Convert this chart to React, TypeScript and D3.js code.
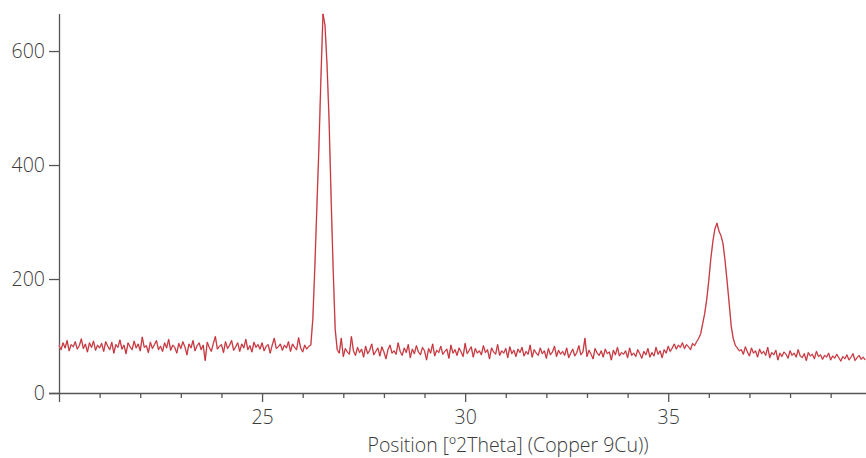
import { useEffect, useRef } from "react";
import * as d3 from "d3";

// scan grid: 2Theta starts at 20 and steps 0.05 degrees
const thetaStart = 20;
const thetaStep = 0.05;

// counts, in scan order
const baselineLow = [
  84, 76, 88, 79, 92, 74, 85, 81, 90, 77,
  83, 95, 78, 86, 72, 88, 80, 91, 75, 84,
  79, 87, 73, 90, 82, 76, 89, 70, 85, 80,
  93, 77, 84, 69, 88, 81, 76, 91, 79, 86,
  74, 98, 80, 83, 71, 89, 78, 85, 92, 76,
  82, 73, 88, 79, 94, 75, 84, 80, 70, 87,
  78, 90, 81, 67, 86, 79, 92, 74, 83, 88,
  76, 84, 57, 89, 80, 73, 87, 99, 77, 82,
  85, 71, 90, 78, 84, 92, 75, 81, 88, 73,
  86, 79, 94, 76, 83, 72, 89, 80, 85, 77,
  88, 74, 82, 85, 70, 84, 96, 78, 81, 86,
  75, 84, 79, 90, 73, 86, 80, 76, 97, 79,
  72, 84, 77, 82,
];
const peakMain = [84, 130, 222, 328, 432, 555, 665, 645, 575, 478, 342, 218, 112, 76];
const baselineMid = [
  70, 96, 64, 78, 72, 68, 99, 74, 66, 80,
  71, 77, 63, 82, 69, 75, 86, 67, 73, 79,
  65, 81, 72, 60, 76, 84, 70, 74, 68, 88,
  73, 66, 79, 71, 85, 62, 77, 69, 83, 72,
  67, 80, 74, 58, 78, 70, 86, 65, 75, 71,
  82, 68, 73, 77, 61, 84, 70, 76, 66, 79,
  72, 64, 87, 69, 75, 81, 63, 78, 70, 74,
  67, 83, 71, 76, 60, 79, 72, 68, 85, 66,
  74, 70, 78, 62, 81, 69, 75, 64, 77, 71,
  80, 65, 73, 68, 84, 63, 76, 70, 66, 79,
  69, 74, 61, 78, 67, 72, 82, 64, 75, 68,
  73, 66, 79, 62, 70, 77, 65, 71, 83, 67,
  72, 96, 64, 75, 68, 60, 78, 70, 66, 74,
  63, 77, 69, 72, 58, 75, 67, 80, 65, 71,
  68, 74, 62, 79, 66, 70, 64, 76, 69, 61,
  73, 67, 78, 63, 71, 65, 80, 68, 74, 62,
  76, 70, 82, 73, 79, 86, 77, 84, 80, 88,
  78, 85, 81, 76, 87, 83,
];
const peakSecond = [90, 96, 104, 122, 140, 165, 198, 236, 266, 288, 298, 284, 276, 262, 232, 196, 158, 118, 96, 84, 79, 74];
const baselineHigh = [
  76, 68, 81, 72, 65, 79, 70, 74, 63, 77,
  69, 73, 66, 80, 62, 71, 67, 75, 58, 70,
  64, 72, 68, 61, 74, 66, 70, 63, 76, 65,
  62, 69, 57, 71, 65, 68, 60, 73, 64, 67,
  59, 66, 63, 70, 58, 65, 61, 68, 62, 56,
  64, 60, 67, 58, 63, 69, 57, 62, 66, 59,
  63, 58,
];

const xMajorTicks = [25, 30, 35];
const xMinorTicks = [21, 22, 23, 24, 26, 27, 28, 29, 31, 32, 33, 34, 36, 37, 38, 39];
const yTicks = [0, 200, 400, 600];
const xLabel = "Position [º2Theta] (Copper 9Cu))";

const counts = [...baselineLow, ...peakMain, ...baselineMid, ...peakSecond, ...baselineHigh];

const width = 866;
const height = 458;
const marginLeft = 59;
const marginTop = 14;
const marginBottom = 65;
const font = "'Open Sans', sans-serif";

const App = () => {
  const gx = useRef<SVGGElement>(null);
  const gxMinor = useRef<SVGGElement>(null);
  const gy = useRef<SVGGElement>(null);

  const x = d3.scaleLinear().domain([20, 39.87]).range([marginLeft, width]);
  const y = d3.scaleLinear().domain([0, 665]).range([height - marginBottom, marginTop]);
  const line = d3
    .line<number>()
    .x((d, i) => x(thetaStart + i * thetaStep))
    .y((d) => y(d));

  useEffect(() => {
    const ax = d3.select(gx.current!);
    ax.call(d3.axisBottom(x).tickValues(xMajorTicks).tickSize(9).tickPadding(8).tickFormat(d3.format("d")) as any);
    ax.select(".domain").attr("d", `M${marginLeft - 10},0.5H${width}`);
    ax.selectAll("line, .domain").attr("stroke", "#555").attr("stroke-width", 1.3);
    ax.selectAll("text").attr("fill", "#3a3a3a").style("font-size", "19.5px").style("font-weight", "300").style("font-family", font);

    const am = d3.select(gxMinor.current!);
    am.call(d3.axisBottom(x).tickValues(xMinorTicks).tickSize(5).tickFormat(() => "") as any);
    am.select(".domain").remove();
    am.selectAll("line").attr("stroke", "#555").attr("stroke-width", 1.3);

    const ay = d3.select(gy.current!);
    ay.call(d3.axisLeft(y).tickValues(yTicks).tickSize(10).tickPadding(4) as any);
    ay.select(".domain").attr("d", `M0.5,${marginTop}V${height - marginBottom + 9}`);
    ay.selectAll("line, .domain").attr("stroke", "#555").attr("stroke-width", 1.3);
    ay.selectAll("text").attr("fill", "#3a3a3a").style("font-size", "19.5px").style("font-weight", "300").style("font-family", font);
  }, []);

  return (
    <svg
      width={width}
      height={height}
      style={{ position: "absolute", left: 0, top: 0, fontFamily: font, background: "#fff" }}
    >
      <g ref={gx} transform={`translate(0,${height - marginBottom})`} />
      <g ref={gxMinor} transform={`translate(0,${height - marginBottom})`} />
      <g ref={gy} transform={`translate(${marginLeft},0)`} />
      <path d={line(counts) ?? ""} fill="none" stroke="#dcaeb1" strokeWidth={1.6} strokeLinejoin="round" />
      <path d={line(counts) ?? ""} fill="none" stroke="#c81e28" strokeWidth={0.9} strokeLinejoin="round" />
      <text x={508} y={452} textAnchor="middle" fill="#3a3a3a" fontSize={19.5} fontWeight={300}>
        {xLabel}
      </text>
    </svg>
  );
};

export default App;
